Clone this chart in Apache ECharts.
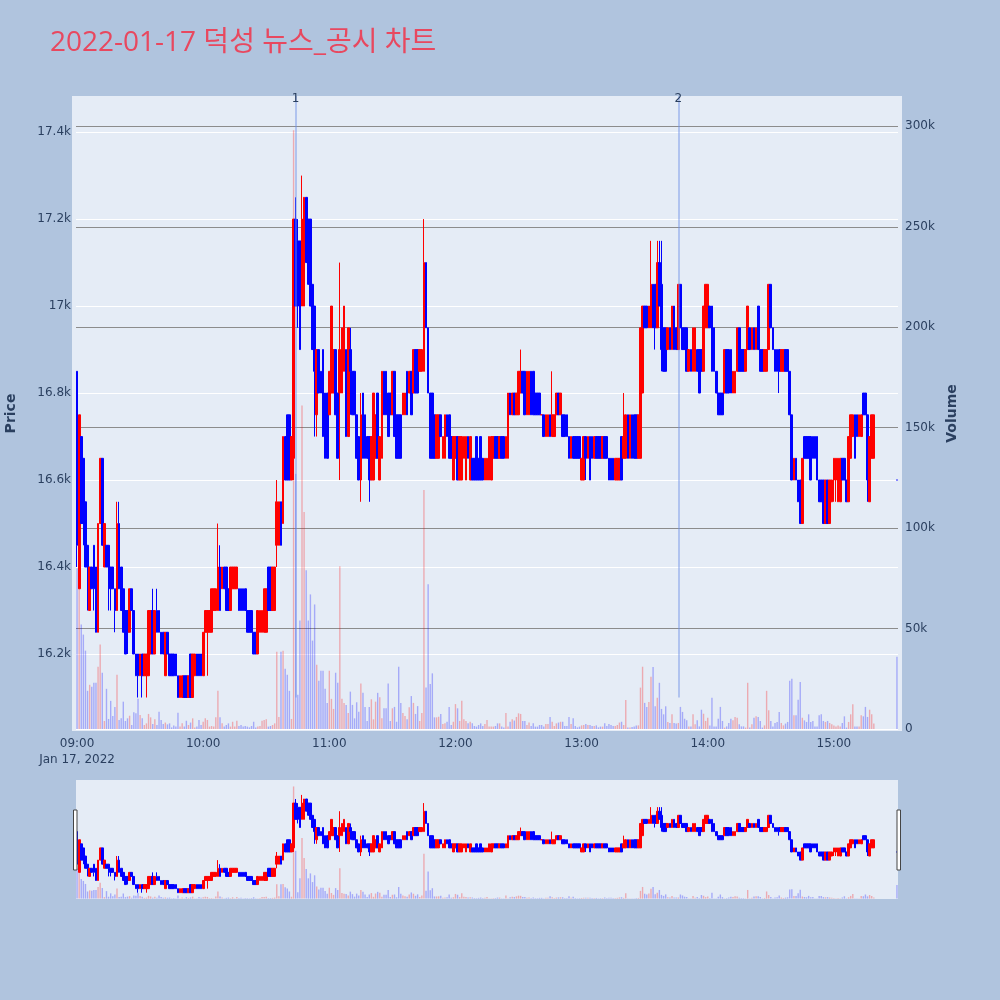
<!DOCTYPE html>
<html><head><meta charset="utf-8">
<script src="https://cdn.jsdelivr.net/npm/echarts@6/dist/echarts.min.js"></script>
<style>html,body{margin:0;padding:0;background:#b0c4de;}#c{width:1000px;height:1000px;}</style>
</head><body><div id="c"></div>
<script>
const chartTitle = '2022-01-17 덕성 뉴스_공시 차트';
const dateLabel = 'Jan 17, 2022';
const priceTicks = [16200, 16400, 16600, 16800, 17000, 17200, 17400];
const volumeTicks = [0, 50000, 100000, 150000, 200000, 250000, 300000];
const newsTimes = ['10:44', '13:46'];
const newsLabels = ['1', '2'];
const N10 = [null,null,null,null,null,null,null,null,null,null];

const opens = [
16850,16350,16700,16650,16550,16450,16300,16400,16450,16400,16250,16500,16650,16400,16450,16450,16400,16400,16350,16300,
16500,16400,16350,16300,16300,16250,16350,16300,16200,16200,16150,16200,16150,16150,16150,16200,16300,16200,16300,16300,
16250,16250,16150,16250,16200,16200,16200,16200,16150,16100,16100,16150,16150,16100,16200,16100,16150,16200,16200,16200,
16150,16250,16250,16250,16250,16300,16300,16300,16400,16350,16400,16400,16350,16300,16350,16350,16350,16350,16350,16350,
16350,16300,16300,16300,16250,16250,16200,16250,16250,16250,16250,16400,16400,16300,16300,16450,16450,16550,16500,16700,
16750,16750,16600,16650,17200,17150,17150,17000,17000,17250,17200,17200,17050,17000,16750,16900,16850,16900,16800,16800,
16750,16800,16800,16900,16800,16800,16800,16850,16900,16700,16900,16850,16850,16750,16700,16600,16800,16750,16700,16700,
16600,16600,16650,16800,16600,16650,16850,16850,16800,16800,16750,16850,16750,16750,16750,16750,16750,16850,16800,16850,
16800,16900,16900,16850,16850,16850,17100,16950,16800,16800,16750,16650,16650,16750,16650,16650,16750,16750,16700,16600,
16650,16700,16600,16600,16650,16600,16700,16600,16650,16650,16700,16650,16700,16650,16600,16600,16600,16600,16650,16700,
16700,16650,16700,16700,16650,16650,16800,16750,16800,16750,16750,16800,16850,16850,16750,16750,16850,16850,16800,16800,
16800,16750,16750,16700,16700,16750,16700,16700,16750,16800,16750,16750,16750,16750,16700,16650,16700,16700,16700,16700,
16600,16600,16700,16650,16700,16700,16650,16700,16700,16700,16650,16700,16700,16650,16650,16650,16600,16600,16600,16700,
16650,16650,16750,16650,16750,16750,16750,16650,16650,16800,17000,17000,16950,16950,17050,17050,16950,17100,17050,16950,
16950,16900,16950,16900,17000,16950,16900,17050,16950,16950,16950,16850,16900,16850,16850,16900,16900,16900,16850,16950,
16950,17000,17000,16950,16850,16800,16800,16800,16800,16900,16900,16900,16800,16800,16850,16950,16900,16900,16850,16900,
16950,16900,16950,16900,17000,16900,16900,16850,16850,16900,17050,16950,16900,16900,16900,16850,16850,16900,16900,16850,
16750,16600,16650,16600,16600,16500,16700,16700,16700,16700,16700,16700,16700,16600,16600,16600,16500,16600,16500,16550,
16600,16600,16550,16550,16650,16650,16600,16550,16650,16700,16750,16750,16700,16700,16800,16800,16750,16550,16650,16650,
...N10, 16600];

const closes = [
16450,16750,16500,16500,16400,16400,16400,16350,16350,16250,16500,16650,16450,16500,16400,16400,16350,16350,16300,16500,
16350,16300,16250,16200,16250,16350,16300,16200,16150,16150,16200,16150,16200,16200,16300,16300,16200,16300,16250,16250,
16200,16200,16250,16200,16150,16150,16150,16150,16100,16150,16150,16100,16100,16150,16100,16200,16200,16150,16150,16150,
16250,16300,16300,16300,16350,16350,16350,16400,16300,16400,16350,16300,16300,16400,16400,16400,16400,16300,16300,16300,
16300,16250,16250,16250,16200,16200,16300,16300,16300,16350,16350,16300,16300,16400,16400,16550,16550,16450,16700,16600,
16600,16600,16700,17200,17000,17000,16900,17200,17250,17100,17050,17000,16900,16850,16900,16800,16800,16700,16650,16650,
16850,17000,16900,16750,16650,16900,16950,17000,16700,16950,16850,16750,16750,16650,16600,16750,16650,16650,16650,16600,
16700,16800,16750,16650,16700,16850,16750,16750,16700,16750,16850,16700,16650,16650,16650,16800,16800,16750,16850,16750,
16900,16800,16800,16900,16900,17100,16950,16800,16650,16650,16650,16750,16750,16700,16700,16750,16700,16650,16650,16700,
16700,16600,16700,16700,16700,16700,16650,16700,16600,16600,16600,16600,16600,16600,16650,16650,16700,16700,16700,16650,
16650,16700,16650,16650,16700,16800,16750,16800,16750,16800,16850,16850,16800,16750,16850,16850,16750,16750,16750,16750,
16750,16750,16700,16750,16750,16700,16750,16750,16800,16750,16800,16700,16700,16700,16650,16700,16650,16650,16650,16650,
16650,16700,16650,16700,16600,16650,16700,16650,16650,16650,16700,16650,16650,16600,16600,16600,16650,16650,16650,16600,
16700,16750,16650,16750,16650,16650,16650,16750,16950,17000,16950,16950,17000,17050,16950,16950,17100,17000,16900,16850,
16850,16950,16900,17000,16900,16900,17050,16950,16900,16900,16850,16900,16850,16950,16950,16850,16800,16850,17000,17050,
17050,16950,16850,16850,16800,16750,16750,16750,16900,16800,16800,16800,16850,16850,16950,16850,16850,16850,16900,17000,
16900,16950,16900,16950,16900,16850,16850,16900,16900,17050,16950,16900,16850,16850,16850,16900,16900,16850,16850,16750,
16600,16650,16600,16550,16500,16650,16650,16650,16650,16600,16650,16650,16600,16550,16550,16500,16600,16500,16600,16600,
16650,16650,16650,16650,16600,16600,16550,16700,16750,16750,16650,16700,16750,16750,16750,16750,16600,16700,16750,16750,
...N10, 16600];

const lows = [
16400,16350,16500,16450,16400,16300,16300,16350,16300,16250,16250,16500,16450,16400,16400,16300,16300,16350,16250,16300,
16350,16300,16250,16200,16200,16250,16300,16200,16150,16100,16150,16100,16150,16100,16150,16200,16200,16200,16250,16250,
16200,16200,16150,16200,16150,16150,16150,16150,16100,16100,16100,16100,16100,16100,16100,16100,16150,16150,16150,16150,
16150,16250,16150,16250,16250,16300,16300,16300,16300,16350,16350,16300,16300,16300,16350,16350,16350,16300,16300,16300,
16300,16250,16250,16250,16200,16200,16200,16250,16250,16250,16250,16300,16300,16300,16300,16400,16450,16450,16500,16600,
16600,16600,16600,16600,17000,16950,16900,17000,17000,17100,17050,17000,16900,16700,16700,16800,16800,16700,16650,16650,
16750,16800,16800,16750,16650,16600,16800,16850,16700,16700,16750,16750,16750,16650,16600,16550,16650,16650,16650,16550,
16600,16600,16650,16650,16600,16650,16750,16750,16700,16750,16750,16700,16650,16650,16650,16750,16750,16750,16800,16750,
16800,16800,16800,16850,16850,16850,16950,16800,16650,16650,16650,16650,16650,16700,16650,16650,16700,16650,16650,16600,
16650,16600,16600,16600,16650,16600,16650,16600,16600,16600,16600,16600,16600,16600,16600,16600,16600,16600,16650,16650,
16650,16650,16650,16650,16650,16650,16750,16750,16750,16750,16750,16800,16800,16750,16750,16750,16750,16750,16750,16750,
16750,16750,16700,16700,16700,16700,16700,16700,16750,16750,16750,16700,16700,16700,16650,16650,16650,16650,16650,16650,
16600,16600,16600,16650,16600,16650,16650,16650,16650,16650,16650,16650,16650,16600,16600,16600,16600,16600,16600,16600,
16650,16650,16650,16650,16650,16650,16650,16650,16650,16800,16950,16950,16950,16950,16950,16900,16950,17000,16850,16850,
16850,16900,16900,16900,16900,16900,16900,16950,16900,16900,16850,16850,16850,16850,16850,16850,16800,16850,16850,16950,
16950,16950,16850,16850,16800,16750,16750,16750,16800,16800,16800,16800,16800,16800,16850,16850,16850,16850,16850,16900,
16900,16900,16900,16900,16900,16850,16850,16850,16850,16900,16950,16900,16850,16850,16800,16850,16850,16850,16850,16750,
16600,16600,16600,16550,16500,16500,16650,16650,16650,16600,16650,16650,16600,16550,16550,16500,16500,16500,16500,16550,
16550,16550,16550,16550,16600,16600,16550,16550,16650,16700,16650,16700,16700,16700,16750,16750,16550,16550,16650,16650,
...N10, 16600];

const highs = [
16850,16750,16700,16650,16550,16450,16400,16400,16450,16400,16500,16650,16650,16500,16450,16450,16400,16400,16350,16550,
16550,16400,16350,16300,16300,16350,16350,16300,16200,16200,16200,16200,16200,16200,16300,16300,16350,16300,16350,16300,
16250,16250,16250,16250,16200,16200,16200,16200,16150,16150,16150,16150,16150,16150,16200,16200,16200,16200,16200,16200,
16250,16300,16300,16300,16350,16350,16350,16500,16450,16400,16400,16400,16350,16400,16400,16400,16400,16350,16350,16350,
16350,16300,16300,16300,16250,16250,16300,16300,16300,16350,16350,16400,16400,16400,16400,16600,16550,16550,16700,16700,
16750,16750,16700,17200,17250,17200,17150,17300,17250,17250,17200,17200,17050,17000,16900,16900,16850,16900,16800,16800,
16850,17000,16900,16900,16800,17100,16950,17000,16900,16950,16950,16850,16850,16750,16700,16800,16800,16750,16700,16700,
16700,16800,16750,16800,16700,16850,16850,16850,16800,16800,16850,16850,16750,16750,16750,16800,16800,16850,16850,16850,
16900,16900,16900,16900,16900,17200,17100,16950,16800,16800,16750,16750,16750,16750,16700,16750,16750,16750,16700,16700,
16700,16700,16700,16700,16700,16700,16700,16700,16650,16650,16700,16650,16700,16650,16650,16650,16700,16700,16700,16700,
16700,16700,16700,16700,16700,16800,16800,16800,16800,16800,16850,16900,16850,16850,16850,16850,16850,16850,16800,16800,
16800,16750,16750,16750,16750,16750,16850,16750,16800,16800,16800,16750,16750,16750,16700,16700,16700,16700,16700,16700,
16650,16700,16700,16700,16700,16700,16700,16700,16700,16700,16700,16700,16700,16650,16650,16650,16650,16650,16650,16700,
16800,16750,16750,16750,16750,16750,16750,16750,16950,17000,17000,17000,17000,17150,17050,17050,17150,17150,17150,16950,
16950,16950,16950,17000,17000,16950,17050,17050,16950,16950,16950,16900,16900,16950,16950,16900,16900,16900,17000,17050,
17050,17000,17000,16950,16850,16800,16800,16800,16900,16900,16900,16900,16850,16850,16950,16950,16900,16900,16900,17000,
16950,16950,16950,16950,17000,16900,16900,16900,16900,17050,17050,16950,16900,16900,16900,16900,16900,16900,16900,16850,
16750,16650,16650,16600,16600,16650,16700,16700,16700,16700,16700,16700,16700,16600,16600,16600,16600,16600,16600,16600,
16650,16650,16650,16650,16650,16650,16600,16700,16750,16750,16750,16750,16750,16750,16800,16800,16750,16700,16750,16750,
...N10, 16600];

const volumes = [
80000,70000,52000,47000,39000,19000,22000,21000,23000,23000,31000,42000,28000,4000,20000,5000,14000,6500,11000,27000,
4500,5300,13600,4000,5300,6600,2000,8300,7800,15000,7000,5300,2000,2800,7500,5800,2500,4800,2000,8600,
4500,2500,3200,2300,2800,800,1700,1200,8100,1200,2800,1200,4100,2000,3200,5300,800,1200,4500,2000,
3600,5300,4500,1200,1500,1200,5800,19000,5800,2800,1200,2000,2800,1200,3600,1200,4100,1500,2000,1200,
1500,1200,800,1500,3600,800,1200,1500,4100,4500,4800,1200,1500,2000,2800,38500,6000,38500,39000,30000,
27000,19000,5000,298000,127000,17000,54000,161000,108000,79000,54000,67000,44000,62000,32000,24000,29000,29000,20000,13000,
29000,15000,10000,28000,23000,81000,15000,13000,12000,8000,18600,12000,5300,13300,8600,22700,18000,11000,4000,11000,
14800,4800,13600,18000,15800,5300,10300,10300,22700,4000,10300,11000,3600,31000,13000,8000,6500,4800,10800,16400,
13000,7500,11400,4000,8000,119000,20700,72000,22400,27700,5800,5800,6100,7500,2500,2800,3600,11000,2000,3600,
12400,10300,4000,14000,4800,4000,2800,3600,2800,1500,1200,2000,2800,1500,2500,4500,1200,1200,1200,1500,
2800,2800,1200,800,8000,1200,3600,4800,4200,6000,7800,7500,4000,4000,2000,3200,1500,2800,1200,1200,
2000,2000,1200,2500,2500,6000,3600,1500,2800,3200,3600,3600,1500,1500,6000,2500,5300,1500,800,1200,
1800,2000,2500,2000,2000,1500,1500,1800,800,1200,1200,2800,1500,2500,2000,1500,1500,2000,3200,3600,
2000,14400,700,700,1000,1300,1800,1800,20600,31000,13000,11000,13400,26000,30800,11300,15600,23000,10000,7300,
11300,3500,3000,7300,3000,2700,3000,11000,8500,5100,4300,1300,1300,7300,2300,4300,1300,9600,7600,4000,
5600,1800,15600,1300,1300,5100,11000,4000,700,1300,3000,5100,4300,6000,5600,2300,1300,1300,700,23000,
700,2300,5600,6300,6000,4000,700,1800,19000,9300,4000,1300,3000,3500,8500,3000,1800,2700,3500,24000,
25000,6800,6800,14600,23400,5600,4300,3500,7300,3500,4000,1300,1300,6800,7300,4000,3500,4000,3000,2300,
1800,1300,1800,1300,3000,6300,700,3500,7300,12300,1300,1300,1300,6800,6300,11000,6000,9600,7300,2700,
...N10, 36000];

// minute categories 09:00 .. 15:30
const times = [];
for (let i = 0; i <= 390; i++) {
  const h = 9 + Math.floor(i / 60), m = i % 60;
  times.push(String(h).padStart(2, '0') + ':' + String(m).padStart(2, '0'));
}

const rows = [];
for (let i = 0; i < times.length; i++) {
  if (opens[i] != null) rows.push([times[i], opens[i], closes[i], lows[i], highs[i], volumes[i]]);
}

const FONT = '"Open Sans", "Noto Sans CJK KR", sans-serif';
const TICKFONT = '"DejaVu Sans", Verdana, sans-serif';
const TXT = '#2a3f5f';
const UP = '#ff0000', DOWN = '#0000ff';
const volColor = p => (p.value[2] > p.value[1] ? 'rgba(255,0,0,0.28)' : 'rgba(0,0,255,0.28)');
const PMIN = 16023, PMAX = 17483, VMIN = -1000, VMAX = 315100;

const candleStyle = { color: UP, color0: DOWN, borderColor: UP, borderColor0: DOWN, borderWidth: 1 };

const chart = echarts.init(document.getElementById('c'));
chart.setOption({
  animation: false,
  backgroundColor: '#b0c4de',
  textStyle: { fontFamily: FONT },
  title: { text: chartTitle, left: 50, top: 29, padding: 0,
    textStyle: { color: '#e8485f', fontSize: 28, fontWeight: 'normal', fontFamily: FONT } },
  dataset: { source: rows },
  graphic: [
    { type: 'rect', shape: { x: 72, y: 96, width: 4, height: 635 }, style: { fill: '#E5ECF6' }, silent: true },
    { type: 'rect', shape: { x: 898, y: 96, width: 4, height: 635 }, style: { fill: '#E5ECF6' }, silent: true },
    { type: 'rect', shape: { x: 73.5, y: 810, width: 3.5, height: 60 }, style: { fill: '#ffffff', stroke: '#444', lineWidth: 1 }, z: 10, silent: true },
    { type: 'rect', shape: { x: 897, y: 810, width: 3.5, height: 60 }, style: { fill: '#ffffff', stroke: '#444', lineWidth: 1 }, z: 10, silent: true }
  ],
  grid: [
    { left: 76, top: 96, width: 822, height: 635, show: true, backgroundColor: '#E5ECF6', borderWidth: 0, outerBoundsMode: 'none', containLabel: false },
    { left: 76, top: 780, width: 822, height: 119, show: true, backgroundColor: '#E5ECF6', borderWidth: 0, outerBoundsMode: 'none', containLabel: false }
  ],
  xAxis: [
    { type: 'category', gridIndex: 0, data: times, boundaryGap: true,
      axisLine: { show: false }, axisTick: { show: false }, splitLine: { show: false },
      axisLabel: { interval: 59, color: TXT, fontSize: 12, margin: 5, lineHeight: 16, fontFamily: TICKFONT,
        formatter: (v, i) => (i === 0 ? v + '\n' + dateLabel : v) } },
    { type: 'category', gridIndex: 1, data: times, boundaryGap: true, show: false }
  ],
  yAxis: [
    { type: 'value', gridIndex: 0, min: PMIN, max: PMAX, position: 'left',
      name: 'Price', nameLocation: 'middle', nameGap: 58,
      nameTextStyle: { color: TXT, fontSize: 14, fontWeight: 'bold', fontFamily: TICKFONT },
      axisLine: { show: false }, axisTick: { show: false, customValues: priceTicks },
      axisLabel: { customValues: priceTicks, color: TXT, fontSize: 12, margin: 5, fontFamily: TICKFONT,
        formatter: v => (v / 1000) + 'k' },
      splitLine: { show: true, lineStyle: { color: '#ffffff', width: 1 } } },
    { type: 'value', gridIndex: 0, min: VMIN, max: VMAX, position: 'right',
      name: 'Volume', nameLocation: 'middle', nameGap: 46,
      nameTextStyle: { color: TXT, fontSize: 14, fontWeight: 'bold', fontFamily: TICKFONT },
      axisLine: { show: false }, axisTick: { show: false, customValues: volumeTicks },
      axisLabel: { customValues: volumeTicks, color: TXT, fontSize: 12, margin: 7, fontFamily: TICKFONT,
        formatter: v => (v === 0 ? '0' : (v / 1000) + 'k') },
      splitLine: { show: true, lineStyle: { color: ['#ffffff', '#8c8c8c', '#8c8c8c', '#8c8c8c', '#8c8c8c', '#8c8c8c', '#8c8c8c'], width: 1 } } },
    { type: 'value', gridIndex: 1, min: PMIN, max: PMAX, show: false },
    { type: 'value', gridIndex: 1, min: VMIN, max: VMAX, show: false }
  ],
  series: [
    { type: 'bar', xAxisIndex: 0, yAxisIndex: 1, encode: { x: 0, y: 5 }, barWidth: 1.4,
      itemStyle: { color: volColor }, silent: true, z: 1 },
    { type: 'candlestick', xAxisIndex: 0, yAxisIndex: 0, encode: { x: 0, y: [1, 2, 3, 4] },
      barWidth: 2.2, itemStyle: candleStyle, silent: true, z: 2,
      markLine: { symbol: ['none', 'none'], silent: true, animation: false,
        lineStyle: { color: 'rgba(110,145,230,0.6)', width: 1.5, type: 'solid' },
        label: { show: true, position: 'end', formatter: '{b}', color: TXT, fontSize: 12, distance: -9, fontFamily: TICKFONT },
        data: newsTimes.map((t, k) => [
          { coord: [t, 16100], name: newsLabels[k] },
          { coord: [t, PMAX], name: newsLabels[k] }
        ]) } },
    { type: 'bar', xAxisIndex: 1, yAxisIndex: 3, encode: { x: 0, y: 5 }, barWidth: 1.4,
      itemStyle: { color: volColor }, silent: true, z: 1 },
    { type: 'candlestick', xAxisIndex: 1, yAxisIndex: 2, encode: { x: 0, y: [1, 2, 3, 4] },
      barWidth: 2.2, itemStyle: candleStyle, silent: true, z: 2 }
  ]
});
</script>
</body></html>
